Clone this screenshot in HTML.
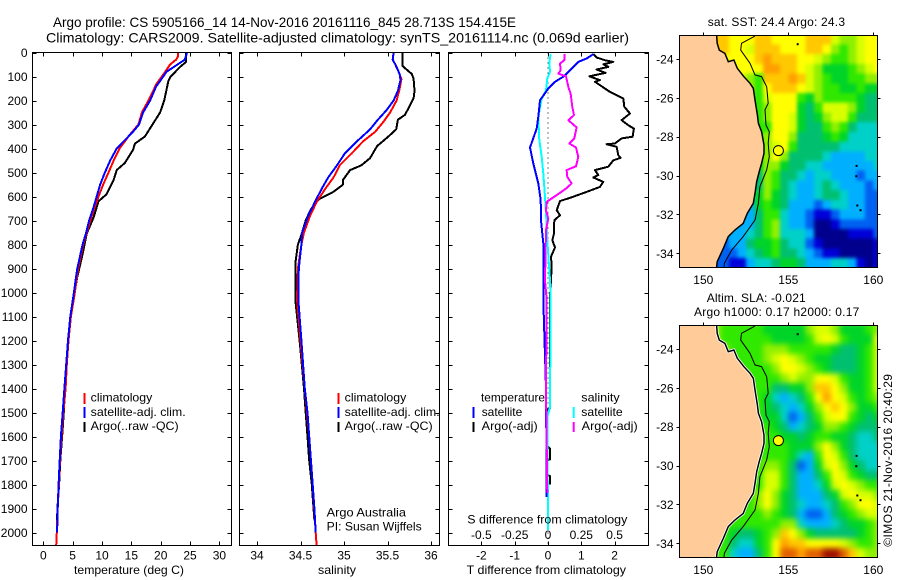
<!DOCTYPE html>
<html lang="en">
<head>
<meta charset="utf-8">
<title>Argo profile chart</title>
<style>
html,body{margin:0;padding:0;background:#fff;width:900px;height:580px;overflow:hidden}
svg{display:block}
text{font-family:"Liberation Sans",sans-serif;fill:#000;font-size:12px}
.t{font-size:14px}
</style>
</head>
<body>
<svg id="chart" xmlns="http://www.w3.org/2000/svg" width="900" height="580" viewBox="0 0 900 580">
<defs>
<filter id="blur-sst" x="-5%" y="-5%" width="110%" height="110%" color-interpolation-filters="sRGB"><feGaussianBlur stdDeviation="1.8"/></filter>
<filter id="blur-sla" x="-5%" y="-5%" width="110%" height="110%" color-interpolation-filters="sRGB"><feGaussianBlur stdDeviation="3"/></filter>
</defs>
<rect x="0" y="0" width="900" height="580" fill="#fff"/>
<text class="t" x="53" y="27" textLength="463" lengthAdjust="spacingAndGlyphs">Argo profile: CS 5905166_14 14-Nov-2016 20161116_845 28.713S 154.415E</text>
<text class="t" x="46" y="42.5" textLength="583" lengthAdjust="spacingAndGlyphs">Climatology: CARS2009. Satellite-adjusted climatology: synTS_20161114.nc (0.069d earlier)</text>

<g id="p1"></g>
<g id="p2"></g>
<g id="p3"></g>
<g id="m1"></g>
<g id="m2"></g>

<text x="74" y="574" textLength="110" lengthAdjust="spacingAndGlyphs">temperature (deg C)</text>
<text x="318" y="574" textLength="38" lengthAdjust="spacingAndGlyphs">salinity</text>
<text x="466.7" y="574" textLength="159.3" lengthAdjust="spacingAndGlyphs">T difference from climatology</text>
<text x="467.3" y="523.5" textLength="160" lengthAdjust="spacingAndGlyphs">S difference from climatology</text>

<g>
<rect x="83.5" y="393" width="2" height="11" fill="#f00"/>
<rect x="83.5" y="407" width="2" height="11" fill="#00f"/>
<rect x="83.5" y="422" width="2" height="10" fill="#000"/>
<text x="90.7" y="401.7" textLength="61.6" lengthAdjust="spacingAndGlyphs">climatology</text>
<text x="90.7" y="416" textLength="95" lengthAdjust="spacingAndGlyphs">satellite-adj. clim.</text>
<text x="90.7" y="430" textLength="88" lengthAdjust="spacingAndGlyphs">Argo(..raw -QC)</text>
</g>
<g>
<rect x="337.5" y="393" width="2" height="11" fill="#f00"/>
<rect x="337.5" y="407" width="2" height="11" fill="#00f"/>
<rect x="337.5" y="422" width="2" height="10" fill="#000"/>
<text x="344.7" y="401.7" textLength="61.6" lengthAdjust="spacingAndGlyphs">climatology</text>
<text x="344.7" y="416" textLength="95" lengthAdjust="spacingAndGlyphs">satellite-adj. clim.</text>
<text x="344.7" y="430" textLength="88" lengthAdjust="spacingAndGlyphs">Argo(..raw -QC)</text>
</g>
<text x="326.7" y="516.7" textLength="79.3" lengthAdjust="spacingAndGlyphs">Argo Australia</text>
<text x="326.7" y="530.7" textLength="95" lengthAdjust="spacingAndGlyphs">PI: Susan Wijffels</text>

<g>
<rect x="472.5" y="407" width="2" height="11" fill="#00f"/>
<rect x="472.5" y="422" width="2" height="10" fill="#000"/>
<rect x="572.7" y="407" width="2" height="11" fill="#0ff"/>
<rect x="572.7" y="422" width="2" height="10" fill="#f0f"/>
<text x="481" y="401.7" textLength="64" lengthAdjust="spacingAndGlyphs">temperature</text>
<text x="481.7" y="416" textLength="40.6" lengthAdjust="spacingAndGlyphs">satellite</text>
<text x="481.7" y="430" textLength="56" lengthAdjust="spacingAndGlyphs">Argo(-adj)</text>
<text x="581.3" y="401.7" textLength="38.4" lengthAdjust="spacingAndGlyphs">salinity</text>
<text x="581.3" y="416" textLength="41.4" lengthAdjust="spacingAndGlyphs">satellite</text>
<text x="581.7" y="430" textLength="56" lengthAdjust="spacingAndGlyphs">Argo(-adj)</text>
</g>

<text x="707.7" y="26" textLength="137.3" lengthAdjust="spacing">sat. SST: 24.4  Argo: 24.3</text>
<text x="706.7" y="302" textLength="99" lengthAdjust="spacing">Altim. SLA: -0.021</text>
<text x="694" y="316" textLength="165.3" lengthAdjust="spacing">Argo h1000: 0.17 h2000: 0.17</text>
<text transform="translate(892,546.7) rotate(-90)" x="0" y="0" textLength="172.7" lengthAdjust="spacing">©IMOS 21-Nov-2016 20:40:29</text>
</svg>

<script>
// ---- axis tick values ----
var depthTicks = [0,100,200,300,400,500,600,700,800,900,1000,1100,1200,1300,1400,1500,1600,1700,1800,1900,2000];
var tempTicks = [0,5,10,15,20,25,30];
var salTicks = [34,34.5,35,35.5,36];
var salTickLabels = ['34','34.5','35','35.5','36'];
var tDiffTicks = [-2,-1,0,1,2];
var sDiffTicks = [-0.5,-0.25,0,0.25,0.5];
var sDiffTickLabels = ['-0.5','-0.25','0','0.25','0.5'];
var lonTicks = [150,155,160];
var latTicks = [-24,-26,-28,-30,-32,-34];

// ---- temperature profiles ----
var tempClimDepth = [0,20,30,50,90,130,200,250,300,350,400,450,500,550,600,650,700,800,900,1020,1100,1200,1300,1400,1500,1600,1700,1800,1900,2000,2054];
var tempClimValue = [23.0,22.9,22.6,21.6,20.5,19.3,17.9,16.8,16.2,14.5,13.0,12.0,11.1,10.2,9.4,8.7,8.0,6.8,5.95,5.25,4.7,4.3,4.0,3.8,3.4,3.1,2.85,2.65,2.45,2.3,2.2];
var tempSatDepth = [0,30,80,143,200,250,300,330,400,450,500,550,600,650,700,750,800,900,1020,1100,1200,1300,1400,1500,1600,1700,1800,1900,2000];
var tempSatValue = [24.5,24.1,21.0,19.2,18.2,17.0,16.3,15.3,12.5,11.4,10.5,9.7,9.1,8.5,7.8,7.3,6.7,5.8,5.1,4.6,4.2,3.9,3.6,3.3,3.0,2.8,2.6,2.45,2.35];
var tempArgoDepth = [0,40,60,100,120,200,250,300,350,380,405,460,490,530,590,620,685,755,840,935,1020,1100,1200,1300,1400,1500,1600,1700,1800,1900,1990];
var tempArgoValue = [24.3,24.3,23.3,21.7,21.3,20.6,19.9,18.6,17.3,15.6,15.3,13.9,12.5,12.0,10.8,9.4,8.6,7.4,6.7,5.8,5.2,4.6,4.2,3.9,3.7,3.5,3.2,2.9,2.7,2.4,2.3];

// ---- salinity profiles ----
var salClimDepth = [0,30,60,110,150,200,250,290,330,370,420,470,520,570,620,680,750,800,900,1030,1200,1400,1600,1800,2000,2054];
var salClimValue = [35.57,35.56,35.605,35.66,35.64,35.605,35.53,35.45,35.36,35.22,35.09,34.95,34.88,34.78,34.69,34.61,34.54,34.51,34.47,34.46,34.50,34.55,34.60,34.64,34.675,34.685];
var salSatDepth = [0,30,50,90,115,160,200,240,280,320,370,420,470,520,570,620,680,750,800,900,1030,1200,1400,1500,1600,1700,1800,1900,2000];
var salSatValue = [35.57,35.56,35.59,35.64,35.65,35.62,35.57,35.49,35.39,35.30,35.15,35.01,34.92,34.82,34.74,34.67,34.59,34.52,34.51,34.48,34.475,34.51,34.55,34.58,34.60,34.62,34.64,34.66,34.675];
var salArgoDepth = [0,55,65,90,110,160,190,220,260,280,320,350,390,440,470,490,530,550,580,610,625,660,700,760,800,880,1030,1200,1400,1500,1600,1700,1800,1950];
var salArgoValue = [35.67,35.67,35.70,35.78,35.80,35.81,35.80,35.76,35.70,35.62,35.60,35.51,35.38,35.30,35.20,35.07,34.99,34.99,34.88,34.72,34.67,34.61,34.56,34.51,34.47,34.44,34.44,34.49,34.54,34.56,34.58,34.60,34.63,34.66];

// ---- difference profiles ----
var dTSatDepth = [7,25,39,74,101,122,150,199,268,317,396,462,546,615,699,796,1032,1400,1853];
var dTSatValue = [1.36,1.16,0.91,0.66,0.46,0.21,0.01,-0.24,-0.29,-0.34,-0.54,-0.44,-0.29,-0.22,-0.21,-0.14,-0.14,-0.06,-0.04];
var dTArgoDepth = [7,21,32,39,49,60,71,85,99,108,115,122,150,164,192,226,254,282,303,317,351,358,379,382,393,428,439,449,476,490,511,521,539,560,581,601,619,657,678,699,754,782,812,851,893,1018,1480,1490,1640,1650,1695,1700,1760,1765,1800];
var dTArgoValue = [1.36,1.46,1.71,1.96,1.66,1.81,1.46,1.73,1.24,1.41,1.56,1.41,1.71,1.86,2.26,2.29,2.46,2.21,2.41,2.58,2.54,2.21,2.01,1.76,2.06,2.11,2.18,1.96,1.81,1.41,1.51,1.36,1.66,1.56,1.16,0.76,0.36,0.26,0.36,0.19,0.18,0.13,0.21,0.09,0.11,0.06,0.06,-0.03,-0.03,0.06,0.06,-0.03,-0.03,0.06,0.06];
var dSSatDepth = [7,39,81,108,157,192,268,365,435,504,601,671,782,949,1032,1477,1520,1920,1990];
var dSSatValue = [0.02,0.01,0.015,-0.005,-0.015,-0.0475,-0.0725,-0.065,-0.0475,-0.035,-0.0225,-0.015,-0.005,0.015,0.02,0.015,-0.005,0.0,0.0];
var dSArgoDepth = [7,32,46,74,88,99,143,171,226,261,282,312,358,379,396,435,474,490,518,546,567,594,622,657,692,740,949,1032,1400,1836];
var dSArgoValue = [0.1225,0.1225,0.09,0.095,0.0775,0.135,0.1525,0.17,0.1825,0.195,0.1525,0.215,0.1975,0.16,0.21,0.2275,0.21,0.14,0.145,0.1775,0.135,0.065,-0.01,-0.015,0.0025,-0.015,-0.0225,-0.01,-0.015,-0.005];

// ---- map geography (lon, lat) ----
var coastLon = [150.78,150.82,150.94,151.27,151.47,151.80,152.00,152.39,152.75,152.94,153.04,153.18,153.24,153.43,153.57,153.57,153.43,153.29,153.14,153.04,152.94,152.59,152.35,151.86,151.47,151.18,150.82,150.78];
var coastLat = [-22.76,-23.19,-23.54,-23.71,-24.14,-24.05,-24.48,-24.91,-25.25,-25.51,-26.11,-26.88,-27.31,-27.74,-28.43,-28.86,-29.37,-29.80,-30.31,-30.91,-31.43,-31.94,-32.46,-32.80,-33.14,-33.74,-34.43,-34.71];
var isobathLon = [153.04,152.25,152.20,152.75,153.04,153.43,153.73,153.82,153.63,153.69,153.88,153.82,153.88,153.73,153.33,153.24,153.04,152.35,151.67,151.24,151.22];
var isobathLat = [-22.82,-23.19,-23.54,-24.22,-24.82,-24.91,-25.43,-26.28,-26.62,-27.40,-27.74,-28.34,-29.03,-29.71,-30.57,-31.43,-32.29,-33.14,-33.83,-34.51,-34.70];
var islandLon = [155.55,159.02,159.0,159.06,159.25];
var islandLat = [-23.24,-29.5,-30.03,-31.54,-31.78];
var argoLon = [154.415];
var argoLat = [-28.713];

// ---- map colour classes (0 = coldest/lowest ... 14 = warmest/highest) on a 0.5 degree grid ----
var gridLon0 = [150.5];
var gridLat0 = [-22.75];
var gridStep = [0.5];
var sstLevels = [
[11,11,10,10,10,11,11,10,10,10,10,11,11,11,9,8,8,9,10,10],
[11,11,10,10,9,11,11,11,10,10,10,11,11,10,8,7,8,9,10,10],
[10,10,10,10,10,11,12,11,11,11,10,10,9,8,7,7,8,9,10,10],
[10,10,10,10,10,10,12,12,11,11,10,9,8,6,6,6,7,8,9,10],
[9,9,9,9,8,7,11,11,11,12,11,9,8,7,6,6,7,7,8,8],
[8,8,8,8,8,7,10,11,11,11,10,9,8,7,7,6,6,7,6,6],
[7,7,7,7,7,7,9,10,10,10,7,6,8,7,7,7,7,6,5,5],
[8,8,8,8,8,7,8,10,10,10,6,5,7,9,9,9,8,6,5,5],
[8,8,8,8,8,7,8,10,10,9,6,5,6,8,9,9,7,5,5,5],
[8,8,8,8,8,7,7,10,10,9,6,5,5,7,8,7,5,4,4,4],
[7,7,7,7,7,7,8,10,10,8,5,5,5,6,7,6,4,4,4,4],
[7,7,7,7,7,7,8,9,10,7,5,5,5,5,5,4,4,4,4,4],
[7,7,7,7,7,7,8,10,8,5,5,5,5,4,3,3,3,3,4,4],
[5,5,5,5,5,6,8,8,6,5,5,4,4,3,3,3,3,3,3,4],
[5,5,5,5,5,5,8,7,5,5,4,3,4,4,3,3,3,2,3,3],
[4,4,4,4,4,5,8,7,5,4,3,3,4,5,4,3,3,3,2,3],
[4,4,4,4,4,6,8,6,5,4,3,3,4,5,5,4,3,3,2,2],
[3,3,3,3,3,6,7,6,5,3,3,3,2,3,4,4,3,3,2,2],
[3,3,3,3,3,5,7,7,4,3,3,2,1,1,2,3,3,3,2,2],
[3,3,3,3,3,5,7,8,4,3,3,2,0,0,1,2,2,2,2,2],
[3,3,3,3,4,5,7,8,4,4,4,3,0,0,0,0,1,1,1,2],
[3,2,3,3,5,6,6,7,5,4,4,2,1,0,0,0,0,0,0,1],
[2,2,2,3,4,5,6,7,5,5,4,3,2,1,1,0,0,0,0,1],
[2,2,1,1,3,4,4,5,6,6,5,3,3,3,4,4,3,1,0,1]
];
var slaLevels = [
[8,7,7,7,7,7,6,6,6,6,6,8,9,9,8,6,6,6,7,8],
[8,7,7,7,7,7,7,6,6,6,6,7,9,10,9,7,6,6,6,10],
[8,8,7,7,7,7,8,8,8,7,7,7,7,7,6,5,5,6,7,9],
[7,7,7,7,7,7,8,9,10,9,8,7,6,6,5,5,5,6,7,9],
[7,7,7,7,7,7,7,8,10,10,9,8,7,6,5,5,5,6,7,9],
[7,7,7,7,7,7,7,7,8,9,8,8,10,10,9,7,6,6,7,9],
[7,7,7,7,7,7,7,5,5,6,6,8,11,11,10,8,6,6,7,9],
[7,7,7,7,7,7,6,4,3,4,5,7,10,12,10,9,7,6,7,8],
[7,7,7,7,7,7,6,5,4,3,4,6,8,10,11,10,8,6,6,7],
[7,7,7,7,7,7,6,6,4,2,3,5,7,9,10,10,7,6,5,6],
[7,7,7,7,7,7,7,6,5,3,4,5,6,8,8,7,6,5,5,5],
[7,7,7,7,7,7,7,7,6,6,5,6,7,7,6,6,5,4,4,5],
[7,7,7,7,7,7,7,7,7,6,6,6,8,10,8,6,5,4,4,4],
[7,7,7,7,7,7,7,7,7,6,4,3,7,10,9,7,5,4,4,4],
[7,7,7,7,7,7,8,8,7,5,2,3,6,9,10,8,6,5,4,4],
[7,7,7,7,7,7,9,9,7,5,3,3,5,7,10,9,7,6,5,5],
[7,7,7,7,7,7,9,9,7,5,3,3,4,6,9,10,9,8,7,7],
[7,7,7,7,7,8,10,8,6,5,3,3,3,5,6,9,10,9,9,8],
[7,7,7,7,7,8,10,8,6,5,4,3,3,4,5,7,8,10,10,9],
[7,7,7,7,7,7,8,7,6,5,3,2,2,3,5,6,7,8,9,9],
[7,7,7,7,7,7,7,7,8,8,4,3,3,3,4,5,6,6,7,8],
[7,7,6,5,5,6,7,8,11,10,8,6,5,5,5,5,5,6,7,8],
[7,7,5,4,4,6,7,10,12,11,11,10,10,10,10,9,8,7,7,8],
[7,7,4,3,3,5,7,10,13,13,12,13,13,14,14,13,11,9,8,8]
];
var levelColors = ['#00008c','#0000d8','#0060f0','#00b0ff','#00d0c8','#00c070','#00d428','#30e800','#90f000','#d8ff00','#ffff00','#ffc800','#ffa000','#e06000','#a01000'];

// ---- axis functions ----
function depthY(d){ return 52.5 + d*0.24; }
function tempX(t){ return 43.3 + t*5.87; }
function salX(s){ return 257 + (s-34)*87; }
function tDiffX(v){ return 548 + v*33.3; }
function sDiffX(v){ return 548 + v*133.2; }
function lonX(lon){ return 703.3 + (lon-150)*17; }
function latY(lat, top){ return top + 24 + (-24-lat)*19.43; }

var NS = 'http://www.w3.org/2000/svg';
function mk(tag, parent){
  var el = document.createElementNS(NS, tag);
  parent.appendChild(el);
  return el;
}
function line(parent, x1, y1, x2, y2){
  var el = mk('line', parent);
  el.setAttribute('x1', x1);
  el.setAttribute('y1', y1);
  el.setAttribute('x2', x2);
  el.setAttribute('y2', y2);
  el.setAttribute('stroke', '#000');
  el.setAttribute('stroke-width', 1);
  el.setAttribute('shape-rendering', 'crispEdges');
  return el;
}
function label(parent, x, y, str, anchor){
  var el = mk('text', parent);
  el.setAttribute('x', x);
  el.setAttribute('y', y);
  el.setAttribute('text-anchor', anchor);
  el.textContent = str;
  return el;
}
function profile(parent, vals, depths, xf, color, width){
  var el = mk('polyline', parent);
  var pts = [];
  for (var i = 0; i < vals.length; i++) pts.push(xf(vals[i]).toFixed(1) + ',' + depthY(depths[i]).toFixed(1));
  el.setAttribute('points', pts.join(' '));
  el.setAttribute('fill', 'none');
  el.setAttribute('stroke', color);
  el.setAttribute('stroke-width', width);
  el.setAttribute('stroke-linejoin', 'round');
  el.setAttribute('shape-rendering', 'crispEdges');
  return el;
}
function frame(parent, x0, x1, y0, y1){
  var el = mk('rect', parent);
  el.setAttribute('x', x0);
  el.setAttribute('y', y0);
  el.setAttribute('width', x1-x0);
  el.setAttribute('height', y1-y0);
  el.setAttribute('fill', 'none');
  el.setAttribute('stroke', '#000');
  el.setAttribute('stroke-width', 1);
  el.setAttribute('shape-rendering', 'crispEdges');
  
  
  return el;
}
var PT = 52.5, PB = 545.5;
function panelTicks(parent, x0, x1, xTicks, xf, xLabels){
  var i, t;
  frame(parent, x0, x1, PT, PB);
  for (i = 0; i < depthTicks.length; i++){
    var y = Math.round(depthY(depthTicks[i])) + 0.5;
    t = line(parent, x0, y, x0+4, y);
    
    
    t = line(parent, x1-4, y, x1, y);
    
    
  }
  for (i = 0; i < xTicks.length; i++){
    var x = Math.round(xf(xTicks[i])) + 0.5;
    t = line(parent, x, PT, x, PT+4);
    
    
    t = line(parent, x, PB-4, x, PB);
    
    
    t = label(parent, xf(xTicks[i]), 559.3, xLabels[i], 'middle');
    
    
  }
}

// ---- temperature panel ----
var p1 = document.getElementById('p1');
var el;
el = profile(p1, tempArgoValue, tempArgoDepth, tempX, '#000', 2);


el = profile(p1, tempClimValue, tempClimDepth, tempX, '#f00', 2);


el = profile(p1, tempSatValue, tempSatDepth, tempX, '#00f', 2);


panelTicks(p1, 32.5, 231.5, tempTicks, tempX, tempTicks.map(String));
for (var di = 0; di < depthTicks.length; di++){
  el = label(p1, 27.5, depthY(depthTicks[di]) + 4.5, String(depthTicks[di]), 'end');
  
  
}

// ---- salinity panel ----
var p2 = document.getElementById('p2');
el = profile(p2, salArgoValue, salArgoDepth, salX, '#000', 2);


el = profile(p2, salClimValue, salClimDepth, salX, '#f00', 2);


el = profile(p2, salSatValue, salSatDepth, salX, '#00f', 2);


panelTicks(p2, 239.5, 439.5, salTicks, salX, salTickLabels);

// ---- difference panel ----
var p3 = document.getElementById('p3');
el = line(p3, tDiffX(0), PT, tDiffX(0), PB);
el.setAttribute('stroke-dasharray', '1 4');


el = profile(p3, dTArgoValue, dTArgoDepth, tDiffX, '#000', 2);


el = profile(p3, dSSatValue, dSSatDepth, sDiffX, '#0ff', 2);


el = profile(p3, dTSatValue, dTSatDepth, tDiffX, '#00f', 2);


el = profile(p3, dSArgoValue, dSArgoDepth, sDiffX, '#f0f', 2);


panelTicks(p3, 448.5, 648.5, tDiffTicks, tDiffX, tDiffTicks.map(String));
for (var si = 0; si < sDiffTicks.length; si++){
  el = label(p3, sDiffX(sDiffTicks[si]), 539, sDiffTickLabels[si], 'middle');
  
  
}

// ---- maps ----
var MX0 = 679.5, MX1 = 877.5, MH = 232;
function pathFrom(lons, lats, top){
  var pts = [];
  for (var i = 0; i < lons.length; i++) pts.push(lonX(lons[i]).toFixed(1) + ',' + latY(lats[i], top).toFixed(1));
  return pts;
}
function drawMap(group, levels, top, clipId, filterId, fringe){
  var defs = mk('defs', group);
  var cp = mk('clipPath', defs);
  cp.setAttribute('id', clipId);
  var cr = mk('rect', cp);
  cr.setAttribute('x', MX0);
  cr.setAttribute('y', top);
  cr.setAttribute('width', MX1-MX0);
  cr.setAttribute('height', MH);
  var body = mk('g', group);
  body.setAttribute('clip-path', 'url(#' + clipId + ')');
  var under = mk('use', body);
  under.setAttribute('href', '#' + clipId + '-cells');
  var cells = mk('g', body);
  cells.setAttribute('id', clipId + '-cells');
  cells.setAttribute('filter', 'url(#' + filterId + ')');
  
  
  for (var r = 0; r < levels.length; r++){
    for (var c = 0; c < levels[r].length; c++){
      var x0 = lonX(gridLon0[0] + c*gridStep[0]);
      var x1 = lonX(gridLon0[0] + (c+1)*gridStep[0]);
      var y0 = latY(gridLat0[0] - r*gridStep[0], top);
      var y1 = latY(gridLat0[0] - (r+1)*gridStep[0], top);
      var cell = mk('rect', cells);
      cell.setAttribute('x', x0.toFixed(1));
      cell.setAttribute('y', y0.toFixed(1));
      cell.setAttribute('width', (x1-x0+0.6).toFixed(1));
      cell.setAttribute('height', (y1-y0+0.6).toFixed(1));
      cell.setAttribute('fill', levelColors[levels[r][c]]);
      cell.setAttribute('shape-rendering', 'crispEdges');
      
      
    }
  }
  var coastPts = pathFrom(coastLon, coastLat, top);
  var land = mk('polygon', body);
  land.setAttribute('points', coastPts.join(' ') + ' ' + MX0 + ',' + (top+MH) + ' ' + MX0 + ',' + top + ' ' + lonX(coastLon[0]).toFixed(1) + ',' + top);
  land.setAttribute('fill', '#ffcc99');
  
  
  if (fringe){
    var fr = mk('polyline', body);
    fr.setAttribute('points', coastPts.join(' '));
    fr.setAttribute('fill', 'none');
    fr.setAttribute('stroke', '#fff');
    fr.setAttribute('stroke-width', 3);
    
    
  }
  var coast = mk('polyline', body);
  coast.setAttribute('points', coastPts.join(' '));
  coast.setAttribute('fill', 'none');
  coast.setAttribute('stroke', '#000');
  coast.setAttribute('stroke-width', 1.5);
  
  
  var iso = mk('polyline', body);
  iso.setAttribute('points', pathFrom(isobathLon, isobathLat, top).join(' '));
  iso.setAttribute('fill', 'none');
  iso.setAttribute('stroke', '#000');
  iso.setAttribute('stroke-width', 1);
  
  
  for (var k = 0; k < islandLon.length; k++){
    var isl = mk('rect', body);
    isl.setAttribute('x', (lonX(islandLon[k])-1).toFixed(1));
    isl.setAttribute('y', (latY(islandLat[k], top)-1).toFixed(1));
    isl.setAttribute('width', 2);
    isl.setAttribute('height', 2);
    isl.setAttribute('fill', '#000');
    
    
  }
  var pos = mk('circle', body);
  pos.setAttribute('cx', lonX(argoLon[0]).toFixed(1));
  pos.setAttribute('cy', latY(argoLat[0], top).toFixed(1));
  pos.setAttribute('r', 5);
  pos.setAttribute('fill', '#ffff00');
  pos.setAttribute('stroke', '#000');
  pos.setAttribute('stroke-width', 1);
  
  
  frame(group, MX0, MX1, top+0.5, top+MH+0.5);
  var t, i;
  for (i = 0; i < lonTicks.length; i++){
    var x = Math.round(lonX(lonTicks[i])) + 0.5;
    t = line(group, x, top-2.5, x, top+0.5);
    
    
    t = label(group, lonX(lonTicks[i]), top+249, String(lonTicks[i]), 'middle');
    
    
  }
  for (i = 0; i < latTicks.length; i++){
    var y = Math.round(latY(latTicks[i], top)) + 0.5;
    t = line(group, MX0-3, y, MX0, y);
    
    
    t = line(group, MX1, y, MX1+3, y);
    
    
    t = label(group, 673.5, latY(latTicks[i], top)+4.5, String(latTicks[i]), 'end');
    
    
  }
}
drawMap(document.getElementById('m1'), sstLevels, 35, 'clip-m1', 'blur-sst', false);
drawMap(document.getElementById('m2'), slaLevels, 325, 'clip-m2', 'blur-sla', true);
</script>
</body>
</html>
